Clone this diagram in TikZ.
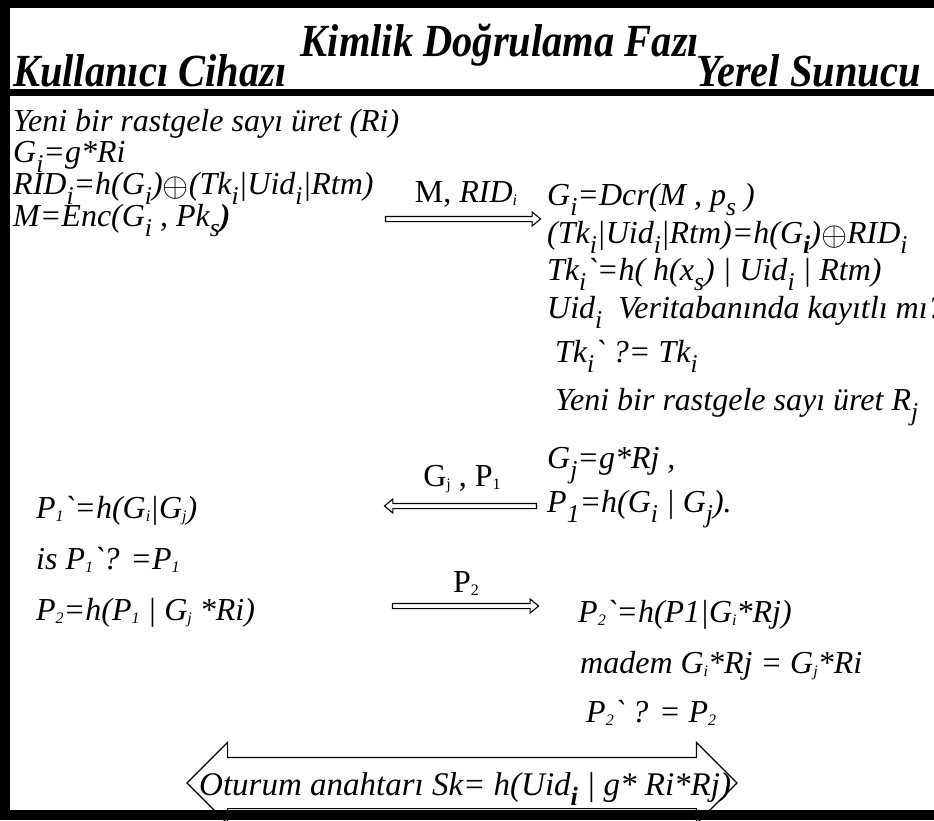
\documentclass[tikz,border=0pt]{standalone}
\usepackage{fontspec}
\setmainfont{Liberation Serif}
\newfontfamily\bodyfont{Liberation Serif}
\newfontfamily\headfont{Liberation Serif}[FakeStretch=0.88]
\usetikzlibrary{shapes.arrows}
\newcommand{\lo}[1]{\raisebox{-0.33em}{\scalebox{0.8}{#1}}}
\newcommand{\los}[1]{\raisebox{-0.12em}{\scalebox{0.5}{#1}}}
\newcommand{\gr}{\textasciigrave}
\newcommand{\xor}{\raisebox{-0.08em}{\scalebox{1.35}{$\oplus$}}}
\begin{document}
\begin{tikzpicture}[x=1pt, y=-1pt,
    txt/.style={anchor=base west, inner sep=0pt, font=\bodyfont\itshape\fontsize{32}{36}\selectfont},
    lbl/.style={anchor=base, inner sep=0pt, font=\bodyfont\fontsize{32}{36}\selectfont},
    head/.style={inner sep=0pt, font=\headfont\bfseries\itshape\fontsize{46}{46}\selectfont},
    msgarrow/.style={single arrow, draw, fill=white, line width=1.1pt, inner sep=0pt, inner ysep=2pt,
        minimum height=#1, single arrow head extend=4.5pt, single arrow tip angle=80},
    bigarrow/.style={double arrow, draw, fill=white, line width=1.1pt, inner sep=0pt, inner ysep=25pt,
        minimum height=550pt, double arrow head extend=15pt, double arrow tip angle=90}]
                \useasboundingbox (0,0) rectangle (934,820);
                % Header
                \node[head, anchor=base] (title) at (500,56) {Kimlik Doğrulama Fazı};
                \node[head, anchor=base west] (client) at (13,86) {Kullanıcı Cihazı};
                \node[head, anchor=base east] (server) at (921,86) {Yerel Sunucu};
                % Client steps
                \foreach \n/\y/\t in {1/131/{Yeni bir rastgele sayı üret (Ri)}, 2/162/{G\lo{i}=g*Ri},
                    3/194/{RID\lo{i}=h(G\lo{i})\xor(Tk\lo{i}|Uid\lo{i}|Rtm)},
                    4/226/{M=Enc(G\lo{i} , Pk\lo{s}{\bfseries )}}}
                    \node[txt] (c\n) at (13,\y) {\t};
                % Server steps
                \foreach \n/\y/\t in {1/205/{G\lo{i}=Dcr(M , p\lo{s} )},
                    2/243/{(Tk\lo{i}|Uid\lo{i}|Rtm)=h(G\lo{\bfseries i})\xor RID\lo{i}},
                    3/280/{Tk\lo{i}\gr=h( h(x\lo{s}) | Uid\lo{i} | Rtm)},
                    4/318/{Uid\lo{i}\ \ Veritabanında kayıtlı mı?},
                    5/362/{\ Tk\lo{i}\gr\ ?= Tk\lo{i}},
                    6/410/{\ Yeni bir rastgele sayı üret R\lo{j}},
                    7/468/{G\lo{j}=g*Rj ,},
                    8/512/{P\lo{1}=h(G\lo{i} | G\lo{j}).}}
                    \node[txt] (s\n) at (547,\y) {\t};
                % Client check
                \foreach \n/\y/\t in {1/518/{P\los{1}\gr=h(G\los{i}|G\los{j})},
                    2/569/{is P\los{1}\gr? =P\los{1}},
                    3/620/{P\los{2}=h(P\los{1} | G\los{j} *Ri)}}
                    \node[txt] (v\n) at (36,\y) {\t};
                % Server check
                \foreach \n/\x/\y/\t in {1/578/622/{P\los{2}\gr=h(P1|G\los{i}*Rj)},
                    2/580/673/{madem G\los{i}*Rj = G\los{j}*Ri},
                    3/586/722/{P\los{2}\gr\ ? = P\los{2}}}
                    \node[txt] (w\n) at (\x,\y) {\t};
                % Messages
                \node[msgarrow=155pt] (m1) at (461.5,219) {};
                \node[lbl] (m1lbl) at (466,202) {M, \textit{RID\los{i}}};
                \node[msgarrow=152pt, shape border rotate=180] (m2) at (462,506) {};
                \node[lbl] (m2lbl) at (462,486) {G\los{j} , P\los{1}};
                \node[msgarrow=146pt] (m3) at (464,606) {};
                \node[lbl] (m3lbl) at (466,592) {P\los{2}};
                % Session key
                \node[bigarrow] (skarrow) at (462,783) {};
                \node[txt, font=\bodyfont\itshape\fontsize{33}{36}\selectfont] (sk) at (199,795)
                    {Oturum anahtarı Sk= h(Uid\lo{\bfseries i} | g* Ri*Rj)};
                % Frame
                \fill (0,0) rectangle (934,8);
                \fill (0,0) rectangle (10,820);
                \fill (0,810) rectangle (934,820);
                \fill (0,89) rectangle (934,96);
            \end{tikzpicture}
\end{document}
